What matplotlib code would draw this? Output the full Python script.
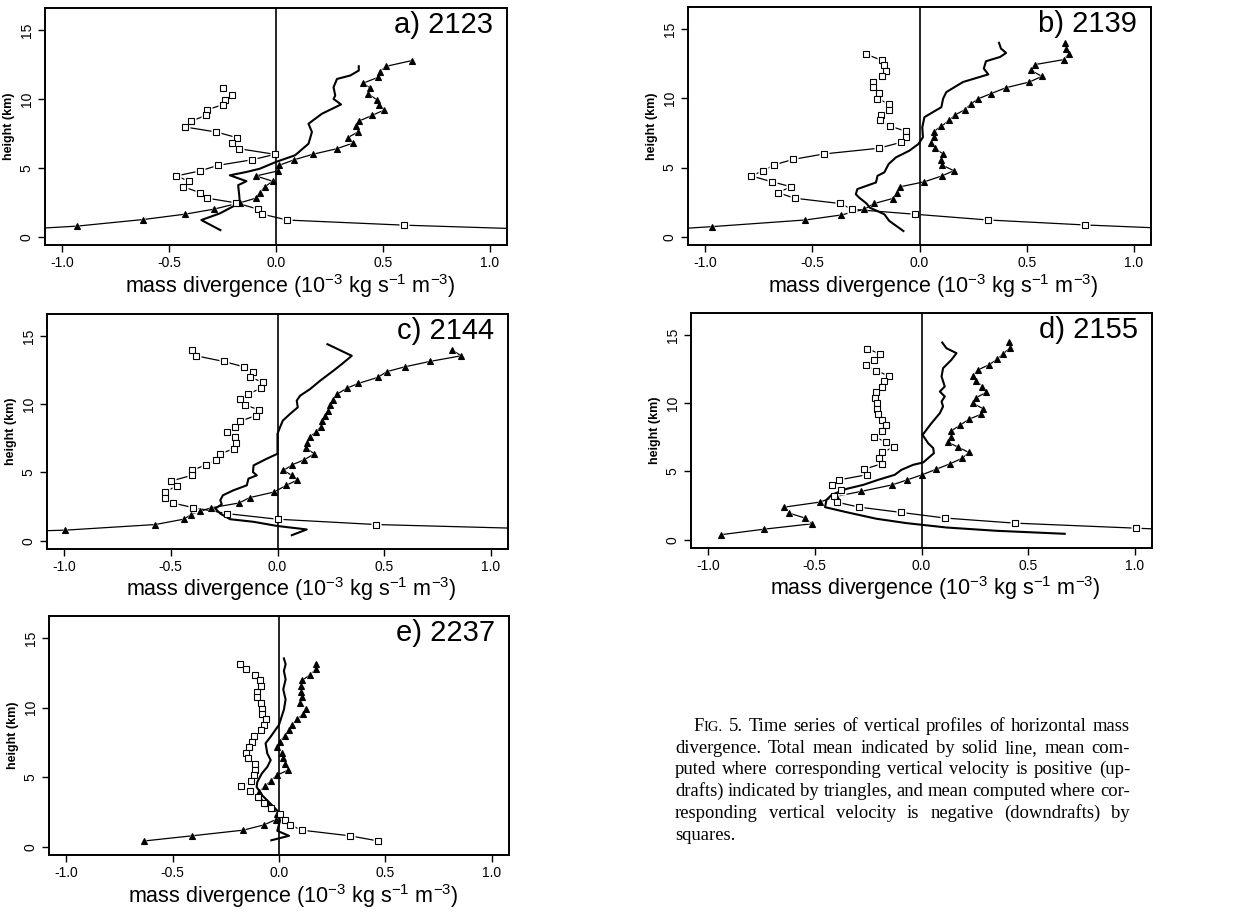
import matplotlib
matplotlib.use('Agg')
import matplotlib.pyplot as plt

plt.rcParams['font.family'] = ['Liberation Sans', 'DejaVu Sans']
plt.rcParams['mathtext.fontset'] = 'custom'
plt.rcParams['mathtext.rm'] = 'Liberation Sans'
plt.rcParams['mathtext.default'] = 'regular'

# ---- data: mass divergence (10^-3 kg s^-1 m^-3) vs height (km) ----
# a) 2123
a_tot_x = [0.387, 0.387, 0.347, 0.285, 0.269, 0.277, 0.269, 0.304, 0.214, 0.152, 0.168, 0.152, 0.089, 0.0,
           -0.075, -0.138, -0.216, -0.138, -0.177, -0.172, -0.169, -0.263, -0.349, -0.260]
a_tot_z = [12.37, 12.06, 11.70, 11.45, 10.85, 10.25, 10.0, 9.60, 8.92, 8.20, 7.60, 6.75, 5.91, 5.43,
           4.94, 4.70, 4.46, 4.03, 3.74, 3.01, 2.46, 1.69, 1.21, 0.48]
a_up_x = [0.634, 0.516, 0.485, 0.477, 0.407, 0.441, 0.430, 0.473, 0.480, 0.507, 0.449, 0.387, 0.376, 0.383,
          0.335, 0.360, 0.285, 0.171, 0.086, 0.014, 0.008, -0.094, -0.016, -0.052, -0.075, -0.094, -0.169,
          -0.291, -0.424, -0.620, -0.931, -1.40]
a_up_z = [12.78, 12.37, 11.98, 11.57, 11.14, 10.78, 10.37, 9.93, 9.57, 9.21, 8.80, 8.39, 8.00, 7.60,
          7.19, 6.80, 6.39, 5.98, 5.59, 5.18, 4.77, 4.41, 4.03, 3.62, 3.21, 2.80, 2.46,
          2.00, 1.64, 1.25, 0.77, 0.35]
a_dn_x = [-0.250, -0.205, -0.239, -0.250, -0.324, -0.329, -0.396, -0.424, -0.279, -0.182, -0.205, -0.174,
          -0.005, -0.110, -0.271, -0.357, -0.466, -0.407, -0.433, -0.357, -0.322, -0.188, -0.083, -0.064,
          0.053, 0.598, 1.40]
a_dn_z = [10.78, 10.32, 9.93, 9.57, 9.21, 8.80, 8.39, 7.96, 7.60, 7.19, 6.80, 6.39,
          5.98, 5.59, 5.18, 4.77, 4.41, 4.03, 3.62, 3.21, 2.80, 2.46, 2.00, 1.64,
          1.21, 0.84, 0.45]

# b) 2139
b_tot_x = [0.371, 0.380, 0.404, 0.376, 0.310, 0.300, 0.321, 0.203, 0.125, 0.110, 0.102, 0.023, 0.013, 0.016,
           -0.005, -0.047, -0.110, -0.144, -0.164, -0.196, -0.203, -0.290, -0.297, -0.282, -0.247, -0.232,
           -0.164, -0.141, -0.075]
b_tot_z = [14.01, 13.60, 13.28, 12.99, 12.68, 12.15, 11.73, 11.18, 10.45, 9.97, 9.36, 8.64, 7.91, 7.19,
           6.70, 6.22, 5.73, 5.25, 4.65, 4.40, 3.92, 3.44, 3.07, 2.83, 2.40, 2.10,
           1.62, 1.14, 0.41]
b_up_x = [0.678, 0.684, 0.696, 0.673, 0.540, 0.520, 0.571, 0.513, 0.404, 0.332, 0.274, 0.238, 0.211, 0.167,
          0.138, 0.102, 0.066, 0.067, 0.055, 0.070, 0.110, 0.102, 0.105, 0.160, 0.106, 0.023, -0.089,
          -0.106, -0.125, -0.211, -0.258, -0.365, -0.532, -0.966, -1.40]
b_up_z = [14.01, 13.60, 13.19, 12.80, 12.44, 12.02, 11.59, 11.18, 10.77, 10.33, 9.97, 9.56, 9.17, 8.81,
          8.40, 7.98, 7.60, 7.19, 6.77, 6.39, 5.98, 5.57, 5.18, 4.77, 4.40, 3.97, 3.61,
          3.15, 2.76, 2.40, 1.98, 1.57, 1.21, 0.73, 0.30]
b_dn_x = [-0.250, -0.177, -0.167, -0.156, -0.175, -0.219, -0.219, -0.191, -0.199, -0.141, -0.141, -0.180,
          -0.185, -0.136, -0.063, -0.063, -0.086, -0.191, -0.446, -0.588, -0.681, -0.728, -0.786, -0.689,
          -0.598, -0.662, -0.582, -0.372, -0.313, -0.019, 0.318, 0.770, 1.40]
b_dn_z = [13.19, 12.75, 12.39, 11.98, 11.59, 11.18, 10.82, 10.38, 9.97, 9.61, 9.19, 8.81,
          8.40, 7.98, 7.62, 7.19, 6.82, 6.39, 5.98, 5.59, 5.18, 4.77, 4.40, 3.97,
          3.61, 3.19, 2.78, 2.40, 1.98, 1.62, 1.21, 0.85, 0.45]

# c) 2144
c_tot_x = [0.234, 0.348, 0.301, 0.262, 0.200, 0.153, 0.106, 0.090, 0.095, 0.059, 0.025, 0.012, 0.0, 0.0,
           -0.050, -0.112, -0.115, -0.097, -0.136, -0.144, -0.206, -0.256, -0.268, -0.261, -0.292, -0.268,
           -0.222, -0.112, -0.003, 0.137, 0.067]
c_tot_z = [14.39, 13.54, 12.93, 12.45, 11.72, 11.11, 10.62, 10.26, 9.77, 9.29, 8.80, 8.32, 7.83, 6.37,
           6.01, 5.52, 5.03, 4.79, 4.55, 4.06, 3.70, 3.33, 2.97, 2.67, 2.36, 1.99,
           1.58, 1.39, 1.09, 0.83, 0.41]
c_up_x = [0.819, 0.860, 0.715, 0.598, 0.512, 0.470, 0.379, 0.324, 0.281, 0.262, 0.246, 0.236, 0.223, 0.207,
          0.203, 0.179, 0.150, 0.140, 0.133, 0.173, 0.125, 0.070, 0.028, 0.067, 0.090, 0.041, -0.016,
          -0.131, -0.179, -0.312, -0.365, -0.404, -0.440, -0.573, -0.994, -1.40]
c_up_z = [13.96, 13.54, 13.13, 12.74, 12.38, 11.96, 11.52, 11.16, 10.75, 10.33, 9.94, 9.53, 9.17, 8.75,
          8.36, 7.95, 7.59, 7.15, 6.78, 6.37, 5.93, 5.57, 5.15, 4.79, 4.43, 4.06, 3.57,
          3.16, 2.77, 2.41, 2.16, 1.92, 1.58, 1.19, 0.78, 0.60]
c_dn_x = [-0.401, -0.382, -0.253, -0.159, -0.115, -0.128, -0.066, -0.076, -0.136, -0.178, -0.151, -0.086,
          -0.101, -0.175, -0.201, -0.237, -0.201, -0.195, -0.206, -0.268, -0.287, -0.334, -0.401, -0.401,
          -0.498, -0.471, -0.529, -0.529, -0.491, -0.396, -0.237, 0.0, 0.462, 1.40]
c_dn_z = [13.96, 13.54, 13.13, 12.74, 12.38, 11.96, 11.60, 11.18, 10.75, 10.36, 9.94, 9.58,
          9.17, 8.75, 8.36, 7.95, 7.59, 7.15, 6.73, 6.37, 5.93, 5.57, 5.15, 4.79,
          4.38, 4.01, 3.57, 3.16, 2.77, 2.43, 1.99, 1.58, 1.19, 0.80]

# d) 2155
d_tot_x = [0.097, 0.117, 0.164, 0.140, 0.101, 0.094, 0.109, 0.086, 0.109, 0.094, 0.101, 0.086, 0.047, 0.005,
           0.031, 0.055, 0.058, 0.008, -0.039, -0.094, -0.125, -0.203, -0.273, -0.351, -0.421, -0.445,
           -0.452, -0.351, -0.211, -0.070, 0.117, 0.351, 0.671]
d_tot_z = [14.44, 14.02, 13.66, 13.17, 12.56, 11.95, 11.22, 10.85, 10.49, 10.12, 9.76, 9.27, 8.54, 7.68,
           7.07, 6.71, 6.34, 5.66, 5.49, 5.12, 4.76, 4.39, 4.02, 3.73, 3.29, 2.93,
           2.39, 2.02, 1.54, 1.22, 0.90, 0.66, 0.44]
d_up_x = [0.409, 0.413, 0.382, 0.356, 0.315, 0.265, 0.242, 0.257, 0.285, 0.304, 0.257, 0.239, 0.289, 0.281,
          0.223, 0.179, 0.140, 0.136, 0.122, 0.172, 0.222, 0.192, 0.133, 0.070, 0.003, -0.066, -0.137,
          -0.284, -0.402, -0.476, -0.644, -0.619, -0.546, -0.515, -0.736, -0.941]
d_up_z = [14.51, 14.02, 13.61, 13.22, 12.80, 12.44, 12.02, 11.63, 11.22, 10.80, 10.41, 10.00, 9.59, 9.20,
          8.83, 8.37, 7.98, 7.56, 7.15, 6.78, 6.39, 5.98, 5.56, 5.17, 4.76, 4.39, 4.02,
          3.54, 3.17, 2.76, 2.39, 1.95, 1.59, 1.17, 0.78, 0.37]
d_dn_x = [-0.254, -0.195, -0.222, -0.261, -0.215, -0.153, -0.175, -0.187, -0.215, -0.218, -0.207, -0.207,
          -0.203, -0.184, -0.167, -0.183, -0.222, -0.168, -0.129, -0.187, -0.198, -0.187, -0.268, -0.257,
          -0.385, -0.418, -0.379, -0.410, -0.398, -0.292, -0.094, 0.112, 0.437, 1.006, 1.40]
d_dn_z = [13.98, 13.61, 13.17, 12.80, 12.39, 12.00, 11.63, 11.22, 10.80, 10.41, 10.00, 9.59,
          9.20, 8.78, 8.37, 7.98, 7.56, 7.15, 6.78, 6.39, 5.98, 5.56, 5.17, 4.76,
          4.39, 3.98, 3.61, 3.17, 2.76, 2.39, 2.00, 1.59, 1.22, 0.85, 0.60]

# e) 2237
e_tot_x = [0.023, 0.031, 0.023, 0.031, 0.020, 0.031, 0.023, 0.0, -0.039, -0.063, -0.055, -0.039, -0.055,
           -0.081, -0.102, -0.105, -0.078, -0.039, -0.008, 0.005, -0.008, 0.047, -0.036]
e_tot_z = [13.55, 13.13, 12.65, 12.04, 11.32, 10.59, 9.86, 8.77, 7.92, 7.44, 6.71, 6.23, 5.74,
           5.26, 4.65, 4.29, 3.68, 3.08, 2.59, 1.87, 1.14, 0.78, 0.46]
e_up_x = [0.172, 0.175, 0.145, 0.109, 0.105, 0.102, 0.106, 0.098, 0.125, 0.114, 0.086, 0.063, 0.047, 0.027,
          0.005, -0.008, 0.013, 0.020, 0.028, 0.042, -0.011, -0.039, -0.066, -0.094, -0.094, -0.055,
          -0.031, -0.008, -0.016, -0.070, -0.167, -0.409, -0.633]
e_up_z = [13.18, 12.77, 12.36, 11.97, 11.56, 11.15, 10.76, 10.35, 9.93, 9.55, 9.18, 8.77, 8.36, 7.97,
          7.56, 7.15, 6.76, 6.35, 5.94, 5.50, 5.14, 4.72, 4.34, 3.93, 3.56, 3.15,
          2.76, 2.35, 1.94, 1.57, 1.19, 0.78, 0.41]
e_dn_x = [-0.183, -0.156, -0.113, -0.089, -0.083, -0.105, -0.105, -0.086, -0.081, -0.078, -0.063, -0.070,
          -0.086, -0.117, -0.125, -0.141, -0.156, -0.144, -0.114, -0.114, -0.117, -0.130, -0.180, -0.136,
          -0.097, -0.070, -0.036, 0.005, 0.028, 0.052, 0.106, 0.333, 0.466]
e_dn_z = [13.18, 12.77, 12.36, 11.97, 11.56, 11.15, 10.76, 10.35, 9.93, 9.55, 9.18, 8.77,
          8.36, 7.97, 7.56, 7.15, 6.76, 6.35, 5.94, 5.55, 5.14, 4.72, 4.34, 3.97,
          3.56, 3.15, 2.76, 2.35, 1.94, 1.57, 1.19, 0.78, 0.41]

labels = ['a) 2123', 'b) 2139', 'c) 2144', 'd) 2155', 'e) 2237']
xticks = [-1.0, -0.5, 0.0, 0.5, 1.0]
xticklabels = ['-1.0', '-0.5', '0.0', '0.5', '1.0']
yticks = [0, 5, 10, 15]

caption = [
    "Time series of vertical profiles of horizontal mass",
    "divergence. Total mean indicated by solid line, mean com-",
    "puted where corresponding vertical velocity is positive (up-",
    "drafts) indicated by triangles, and mean computed where cor-",
    "responding vertical velocity is negative (downdrafts) by",
    "squares.",
]

panels = [
    (a_tot_x, a_tot_z, a_up_x, a_up_z, a_dn_x, a_dn_z),
    (b_tot_x, b_tot_z, b_up_x, b_up_z, b_dn_x, b_dn_z),
    (c_tot_x, c_tot_z, c_up_x, c_up_z, c_dn_x, c_dn_z),
    (d_tot_x, d_tot_z, d_up_x, d_up_z, d_dn_x, d_dn_z),
    (e_tot_x, e_tot_z, e_up_x, e_up_z, e_dn_x, e_dn_z),
]

# axes boxes in pixels (left, top, right, bottom) of a 1260x919 page
W, H = 1260, 919
boxes = [(45, 8, 507, 245), (688, 7, 1151, 245), (47, 314, 508, 549),
         (691, 313, 1152, 548), (49, 616, 509, 855)]

fig = plt.figure(figsize=(12.6, 9.19), dpi=100)

for (l, t, r, b), data, lab in zip(boxes, panels, labels):
    ax = fig.add_axes([l / W, 1 - b / H, (r - l) / W, (b - t) / H])
    tx, tz, ux, uz, dx, dz = data
    ax.axvline(0, color='black', lw=1.2, zorder=4)
    # updrafts / downdrafts: lines with small gaps around the symbols
    for xs, zs, m, fc, ms in [(ux, uz, '^', 'black', 4.3), (dx, dz, 's', 'white', 4.0)]:
        ax.plot(xs, zs, color='black', lw=0.9, zorder=2)
        ax.plot(xs, zs, ls='none', marker=m, ms=ms + 3.5, mfc='white', mec='none', zorder=3)
        ax.plot(xs, zs, ls='none', marker=m, ms=ms, mfc=fc, mec='black', mew=0.8, zorder=5)
    ax.plot(tx, tz, color='black', lw=1.5, zorder=4)

    ax.set_xlim(-1.08, 1.08)
    ax.set_ylim(-0.6, 16.6)
    ax.set_xticks(xticks)
    ax.set_xticklabels(xticklabels)
    ax.set_yticks(yticks)
    ax.set_yticklabels([str(v) for v in yticks], rotation=90, va='center')
    ax.tick_params(direction='out', length=5, width=1, labelsize=10, pad=3)
    for s in ax.spines.values():
        s.set_linewidth(1.4)
    ax.set_ylabel('height (km)', fontsize=9, fontweight='bold')
    ax.yaxis.set_label_coords(-0.065, 0.5)
    ax.text(0.53, -0.172, r'mass divergence (10$^{-3}$ kg s$^{-1}$ m$^{-3}$)', transform=ax.transAxes,
            ha='center', va='center', fontsize=15.5)
    ax.text(0.97, 0.928, lab, transform=ax.transAxes, ha='right', va='center', fontsize=21)

# caption, justified like the printed page
serif = ['Liberation Serif', 'DejaVu Serif']
csize = 13.4
rend = fig.canvas.get_renderer()


def put_words(pieces_list, x0, x1, ybase, justify):
    # pieces_list: list of words, each word a list of (text, size)
    arts, widths = [], []
    for word in pieces_list:
        wa, ww = [], []
        for txt, sz in word:
            t = fig.text(0, ybase, txt, fontsize=sz, family=serif, va='baseline', ha='left')
            wa.append(t)
            ww.append(t.get_window_extent(rend).width / W)
        arts.append(wa)
        widths.append(ww)
    total = sum(sum(w) for w in widths)
    n = len(pieces_list)
    if justify and n > 1:
        gap = (x1 - x0 - total) / (n - 1)
    else:
        gap = 4.5 / W
    x = x0
    for wa, ww in zip(arts, widths):
        for t, w in zip(wa, ww):
            t.set_x(x)
            x += w
        x += gap


y0 = 731
for i, line in enumerate(caption):
    words = [[(w, csize)] for w in line.split(' ')]
    if i == 0:
        words = [[('F', csize), ('IG.', csize * 0.78)], [('5.', csize)]] + words
        xl = 693
    else:
        xl = 675
    put_words(words, xl / W, 1130 / W, 1 - (y0 + i * 21.7) / H, i < len(caption) - 1)

fig.savefig('out.png', dpi=100)
